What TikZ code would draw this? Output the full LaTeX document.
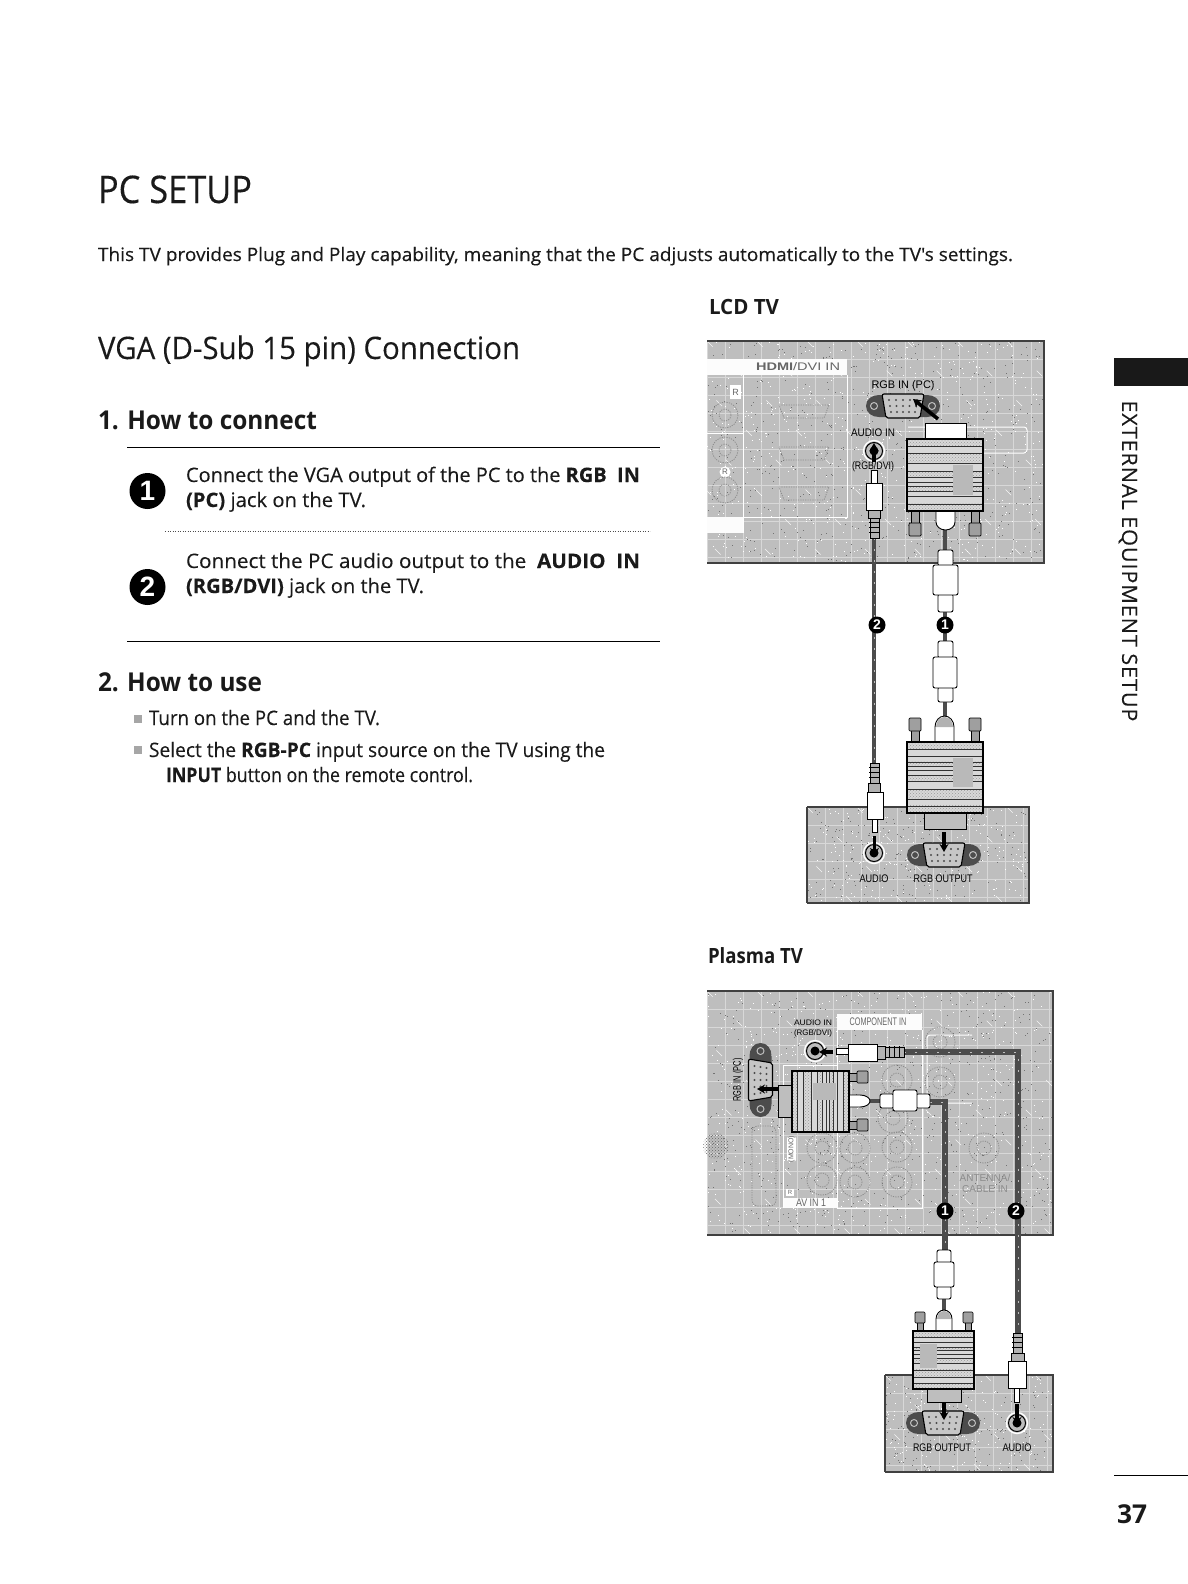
\documentclass[tikz,border=0pt]{standalone}
\usepackage{fontspec}
\usepackage{graphicx}
\setmainfont{Open Sans}
\newfontfamily\medf[FakeBold=0.35]{Open Sans}
\newfontfamily\lightmed[FakeBold=0.15]{Open Sans}
\newfontfamily\spacedf[FakeBold=0.1,LetterSpace=4]{Open Sans}
\newfontfamily\lblfont{Liberation Sans}
\usetikzlibrary{arrows.meta,patterns,calc,shapes.geometric}
\definecolor{ink}{HTML}{1A1A1A}
\definecolor{panelgray}{HTML}{BEBEBE}
\definecolor{cablegray}{HTML}{4C4C4C}
\definecolor{faint}{HTML}{8C8C8C}
\newcommand{\fitx}[2]{\resizebox{#1pt}{\height}{#2}}
\tikzset{
  x=1pt,y=-1pt,
  txt/.style={anchor=base west,inner sep=0pt,outer sep=0pt,text=ink},
  bodytxt/.style={txt,font=\lightmed\fontsize{20}{24}\selectfont},
  lbl/.style={inner sep=0pt,outer sep=0pt,text=black,font=\lblfont\fontsize{11}{12}\selectfont},
  flbl/.style={inner sep=0pt,outer sep=0pt,text=faint,font=\lblfont\fontsize{11}{11}\selectfont},
  cable/.style={line width=4.6pt,color=cablegray},
  cablefine/.style={line width=.6pt,color=white!75!black,dash pattern=on 2pt off 9pt},
  plug/.style={draw=black,fill=white,line width=.9pt},
  relief/.style={draw=black,fill=gray!60,line width=.9pt},
  screw/.style={draw=black,fill=gray!75,line width=.7pt},
  arr/.style={draw=black,line width=3.2pt,-{Stealth[length=8pt,width=9pt]}},
  badge/.style={circle,fill=black,inner sep=0pt,minimum size=17pt,text=white,font=\lblfont\bfseries\fontsize{14}{14}\selectfont},
  bigbadge/.style={circle,fill=black,inner sep=0pt,minimum size=36pt,text=white,font=\lblfont\bfseries\fontsize{28}{28}\selectfont},
  ghost/.style={draw=faint,line width=.8pt,dash pattern=on 1.2pt off 1.2pt},
  band/.style={fill=white!95!panelgray,draw=none},
}
% textured panel
\newcommand{\panel}[5]{%
  \begin{scope}
    \clip (#1,#2) rectangle (#3,#4);
    \fill[panelgray] (#1,#2) rectangle (#3,#4);
    \pgfmathtruncatemacro\pa{#1+18}\pgfmathtruncatemacro\pb{#2+18}%
    \foreach \gx in {#1,\pa,...,#3}{\draw[white!40!panelgray,line width=.6pt] (\gx,#2) -- (\gx,#4);}
    \foreach \gy in {#2,\pb,...,#4}{\draw[white!40!panelgray,line width=.6pt] (#1,\gy) -- (#3,\gy);}
    \foreach \gd in {-300,-250,...,400}{\draw[white!85!panelgray,line width=.6pt,dash pattern=on 8pt off 34pt] ({#1+\gd},#2) -- ({#1+\gd+300},{#2+300});}
    \foreach \i in {1,...,#5}{%
      \pgfmathsetmacro\px{#1+rnd*(#3-#1)}\pgfmathsetmacro\py{#2+rnd*(#4-#2)}%
      \fill[white] (\px,\py) rectangle +(1,1);
      \pgfmathsetmacro\px{#1+rnd*(#3-#1)}\pgfmathsetmacro\py{#2+rnd*(#4-#2)}%
      \fill[black!55] (\px,\py) rectangle +(.8,.8);}
  \end{scope}
  \draw[black!75,line width=1.1pt] (#1,#2) -- (#3,#2) -- (#3,#4) -- (#1,#4);
}
% D-sub socket
\newcommand{\dsub}[3]{%
  \begin{scope}[shift={(#1,#2)},rotate=#3]
    \fill[black!70] (-24,-11) -- (24,-11) .. controls (31,-11) and (37,-7) .. (37,0) .. controls (37,7) and (31,11) .. (24,11) -- (-24,11) .. controls (-31,11) and (-37,7) .. (-37,0) .. controls (-37,-7) and (-31,-11) .. (-24,-11) -- cycle;
    \draw[gray!50,line width=1pt] (-29,0) circle (3.5) (29,0) circle (3.5);
    \draw[black,fill=gray!45,line width=1.1pt,rounded corners=2pt] (-21,-12) -- (21,-12) -- (17,12) -- (-17,12) -- cycle;
    \foreach \ry/\rw in {-6/14,0/13,6/12}{\foreach \rx in {-2,-1,0,1,2}{\fill[black!70] ({\rx*\rw/2},\ry) circle (1.1);}}
  \end{scope}
}
% adapter body: origin ox,oy; vector u; vector v  (v=0 at the block side)
\newcommand{\ad}[2]{{\ox+(#1)*\ux+(#2)*\vx},{\oy+(#1)*\uy+(#2)*\vy}}
\newcommand{\adband}[2]{\path[pattern=crosshatch dots,pattern color=black!40] (\ad{0}{#1}) -- (\ad{1}{#1}) -- (\ad{1}{#2}) -- (\ad{0}{#2}) -- cycle;
  \draw[black!80,line width=.5pt] (\ad{0}{#1}) -- (\ad{1}{#1}) (\ad{0}{#2}) -- (\ad{1}{#2});}
\newcommand{\adapter}[7]{%
  \def\ox{#1}\def\oy{#2}\def\ux{#3}\def\uy{#4}\def\vx{#5}\def\vy{#6}%
  \fill[panelgray!60!white] (\ad{0}{0}) -- (\ad{1}{0}) -- (\ad{1}{1}) -- (\ad{0}{1}) -- cycle;
  \adband{0}{.1}\adband{.2}{.33}\adband{.45}{.53}\adband{.66}{.72}\adband{.9}{1}
  \draw[black!80,line width=.5pt] (\ad{0}{.6}) -- (\ad{1}{.6}) (\ad{0}{.8}) -- (\ad{1}{.8});
  \fill[gray!55] (\ad{#7}{.36}) -- (\ad{#7+.27}{.36}) -- (\ad{#7+.27}{.78}) -- (\ad{#7}{.78}) -- cycle;
  \draw[black,line width=1.2pt] (\ad{0}{0}) -- (\ad{1}{0}) -- (\ad{1}{1}) -- (\ad{0}{1}) -- cycle;
}
\newcommand{\ring}[3]{\draw[white,line width=1.4pt,fill=panelgray] (#1,#2) circle (10.5);\draw[black,line width=1pt] (#1,#2) circle (8.5);\fill[black] (#1,#2) circle (4.5);}
\begin{document}
\begin{tikzpicture}
\useasboundingbox (0,0) rectangle (1188,1584);
\fill[white] (0,0) rectangle (1188,1584);
\pgfmathsetseed{37}

% ---------- left column text
\node[txt,font=\medf\fontsize{38}{44}\selectfont] (title) at (98,203) {\fitx{154}{PC SETUP}};
\node[bodytxt,font=\medf\fontsize{18.5}{22}\selectfont] (intro) at (98,261) {\fitx{915}{This TV provides Plug and Play capability, meaning that the PC adjusts automatically to the TV's settings.}};
\node[txt,font=\lightmed\fontsize{31}{36}\selectfont] (vga) at (98,359) {\fitx{422}{VGA (D-Sub 15 pin) Connection}};
\node[txt,font=\bfseries\fontsize{26}{30}\selectfont] (how1) at (98,429) {\fitx{219}{1. How to connect}};
\draw[black,line width=.9pt] (127,447) coordinate (r1a) -- (660,447) coordinate (r1b);
\node[bigbadge] (n1) at (147.5,491) {1};
\node[bodytxt] (s1a) at (186,482) {\fitx{454}{Connect the VGA output of the PC to the \textbf{RGB\ \ IN}}};
\node[bodytxt] (s1b) at (186,507) {\fitx{180}{\textbf{(PC)} jack on the TV.}};
\draw[black!70,line width=.7pt,dash pattern=on .8pt off 1.7pt] (165,531) coordinate (d1) -- (650,531) coordinate (d2);
\node[bodytxt] (s2a) at (186,568) {\fitx{454}{Connect the PC audio output to the\ \ \textbf{AUDIO\ \ IN}}};
\node[bodytxt] (s2b) at (186,593) {\fitx{238}{\textbf{(RGB/DVI)} jack on the TV.}};
\node[bigbadge] (n2) at (147.5,587) {2};
\draw[black,line width=.9pt] (127,641) coordinate (r2a) -- (660,641) coordinate (r2b);
\node[txt,font=\bfseries\fontsize{26}{30}\selectfont] (how2) at (98,691) {\fitx{164}{2. How to use}};
\fill[gray!70] (134,715) rectangle (142,723);
\node[bodytxt] (u1) at (149,725) {\fitx{231}{Turn on the PC and the TV.}};
\fill[gray!70] (134,746) rectangle (142,754);
\node[bodytxt] (u2) at (149,757) {\fitx{456}{Select the \textbf{RGB-PC} input source on the TV using the}};
\node[bodytxt] (u3) at (166,782) {\fitx{307}{\textbf{INPUT} button on the remote control.}};

% ---------- headings, side tab, page number
\node[txt,font=\bfseries\fontsize{21}{24}\selectfont] (lcd) at (709,314) {\fitx{70}{LCD TV}};
\node[txt,font=\bfseries\fontsize{21}{24}\selectfont] (plasma) at (708,963) {\fitx{95}{Plasma TV}};
\fill[black!90] (1114,358) rectangle (1188,386);
\node[inner sep=0pt,rotate=-90,text=ink,font=\spacedf\fontsize{21}{24}\selectfont] (side) at (1128,561) {\fitx{321}{EXTERNAL EQUIPMENT SETUP}};
\draw[black,line width=.9pt] (1114,1475) coordinate (pr1) -- (1188,1475) coordinate (pr2);
\node[txt,font=\bfseries\fontsize{26}{30}\selectfont] (page) at (1117,1523) {\fitx{30}{37}};

% ---------- LCD panel
\panel{707}{341}{1044}{563}{550}
\fill[band] (707,359) rectangle (847,375);
\fill[band] (707,517) rectangle (743,533);
\draw[white,line width=1pt] (847,375) -- (847,517) -- (743,517) (743,375) -- (743,533) (707,433) -- (743,433);
\draw[white,line width=1pt,rounded corners=3pt] (908,427) -- (1027,427) -- (1027,453) -- (908,453);
\node[lbl,text=black!60] (hdmi) at (798,367) {\fitx{84}{\textbf{HDMI}/DVI IN}};
\fill[white] (730,385) rectangle (741,399);
\node[lbl,text=black!60,font=\lblfont\fontsize{9}{9}\selectfont] (rr1) at (735.5,392) {R};
\fill[white] (725,472) circle (5.5);
\node[lbl,text=black!60,font=\lblfont\fontsize{8}{8}\selectfont] (rr2) at (725,472) {R};
\foreach \cy in {415,450,490}{\draw[ghost] (725,\cy) circle (13);\draw[ghost] (725,\cy) circle (6);}
\foreach \cy in {410,452,492}{\draw[ghost] (779,{\cy-5}) -- (829,{\cy-5}) -- (824,{\cy+8}) -- (784,{\cy+8}) -- cycle;}
\node[lbl] (rgbin) at (903,386) {\fitx{63}{RGB IN (PC)}};
\dsub{903}{406}{0}
\node[lbl] (audin) at (873,433) {\fitx{44}{AUDIO IN}};
\node[lbl] (rgbdvi) at (873,467) {\fitx{42}{(RGB/DVI)}};
\ring{874}{451}{0}
\coordinate (j2top) at (874,451);

% LCD cables
\coordinate (c2a) at (874,538); \coordinate (c2b) at (874,763);
\coordinate (c1a) at (945,528); \coordinate (c1b) at (945,552);
\coordinate (c1c) at (945,610); \coordinate (c1d) at (945,644);
\coordinate (c1e) at (945,700); \coordinate (c1f) at (945,718);
\draw[cable] (c2a) -- (c2b); \draw[cablefine] (c2a) -- (c2b);
\draw[cable] (c1a) -- (c1b); \draw[cable] (c1c) -- (c1d); \draw[cable] (c1e) -- (c1f);

% LCD upper audio plug
\draw[plug] (871.5,470) rectangle (877.5,483);
\draw[plug] (866,483) rectangle (882,510);
\draw[relief] (868,510) rectangle (880,518);
\draw[relief] (870,518) rectangle (879,538);
\foreach \ly in {522,527,532}{\draw[black,line width=.8pt] (869,\ly) -- (880,\ly);}
\draw[arr] (874,462) -- (874,443);
\draw[arr,line width=3.6pt] (938,419) -- (913,399);

% LCD upper adapter
\draw[screw] (911,511) rectangle (919,525);\draw[screw,rounded corners=1pt] (909,523) rectangle (921,536);
\draw[screw] (971,511) rectangle (979,525);\draw[screw,rounded corners=1pt] (969,523) rectangle (981,536);
\draw[plug] (936,511) -- (936,522) arc[start angle=180,end angle=0,x radius=9.5,y radius=8] -- (955,511) -- cycle;
\draw[plug] (925,423) rectangle (966,439);
\adapter{907}{439}{76}{0}{0}{72}{.6}
% LCD upper ferrite
\draw[plug,rounded corners=2pt] (938,550) rectangle (953,566);
\draw[plug,rounded corners=2pt] (938,594) rectangle (953,612);
\draw[plug,rounded corners=2pt] (933,565) rectangle (958,595);

\node[badge] (b1a) at (945,625) {1};
\node[badge] (b2a) at (877,625) {2};

% LCD lower ferrite + adapter
\draw[plug,rounded corners=2pt] (938,641) rectangle (953,658);
\draw[plug,rounded corners=2pt] (938,687) rectangle (953,702);
\draw[plug,rounded corners=2pt] (933,657) rectangle (957,688);

% PC box (LCD)
\panel{807}{807}{1029}{903}{220}
\draw[black!75,line width=1.1pt] (807,807) -- (807,903);
\node[lbl] (audio1) at (874,879) {\fitx{29}{AUDIO}};
\node[lbl] (rgbout1) at (943,879) {\fitx{59}{RGB OUTPUT}};
\ring{874}{853}{0}
\dsub{944}{855}{0}
\draw[screw] (911,729) rectangle (919,741);\draw[screw,rounded corners=1pt] (909,718) rectangle (921,731);
\draw[screw] (971,729) rectangle (979,741);\draw[screw,rounded corners=1pt] (969,718) rectangle (981,731);
\draw[plug] (935,742) -- (935,727) arc[start angle=180,end angle=360,x radius=9.5,y radius=11] -- (954,742) -- cycle;
\fill[gray!60] (936,727) arc[start angle=180,end angle=360,x radius=8.5,y radius=10] -- cycle;
\draw[plug,fill=panelgray] (924,813) rectangle (966,829);
\adapter{907}{813}{76}{0}{0}{-71}{.6}
\draw[arr] (944,832) -- (944,852);
% lower audio plug
\draw[relief] (870,763) rectangle (879,783);
\foreach \ly in {767,772,777}{\draw[black,line width=.8pt] (869,\ly) -- (880,\ly);}
\draw[relief] (868,783) rectangle (880,792);
\draw[plug] (867,792) rectangle (883,819);
\draw[plug] (872,819) rectangle (877,832);
\draw[arr] (874.5,836) -- (874.5,856);

% ---------- Plasma panel
\panel{707}{991}{1053}{1235}{650}
\fill[band] (837,1014) rectangle (922,1030);
\fill[band] (783,1198) rectangle (837,1208);
\draw[white,line width=1pt] (837,1030) -- (837,1208) -- (922,1208) -- (922,1030) (783,1065) -- (783,1208) (783,1065) -- (837,1065);
\draw[white,line width=1pt,rounded corners=3pt] (927,1103) -- (972,1103) (972,1035) -- (927,1035) -- (927,1103);
\node[lbl,text=black!60] (compin) at (878,1022) {\fitx{57}{COMPONENT IN}};
\node[lbl,text=black!60] (avin) at (811,1203) {\fitx{30}{AV IN 1}};
\foreach \cx/\cy in {822/1148,822/1180,855/1148,855/1182,897/1147,897/1182,897/1080,893/1118,940/1042,940/1082,984/1148}{\draw[ghost] (\cx,\cy) circle (15);\draw[ghost] (\cx,\cy) circle (7);}
\draw[ghost,rounded corners=6pt] (752,1126) rectangle (776,1206);
\path[pattern=crosshatch dots,pattern color=black!60] (716,1146) circle (13);
\fill[white,rounded corners=1pt] (787,1137) rectangle (796,1161);
\node[lbl,rotate=90,text=black!60,font=\lblfont\fontsize{7}{7}\selectfont] (mono) at (791.5,1149) {(MONO)};
\fill[white] (786,1189) rectangle (794,1196);
\node[lbl,text=black!60,font=\lblfont\fontsize{6}{6}\selectfont] (rr3) at (790,1192.5) {R};
\node[flbl,align=center,font=\lblfont\fontsize{10}{11}\selectfont] (cablein) at (985,1183) {ANTENNA/\\CABLE IN};
\node[lbl,font=\lblfont\fontsize{8}{8}\selectfont] (audin2) at (813,1023) {\fitx{38}{AUDIO IN}};
\node[lbl,font=\lblfont\fontsize{8}{8}\selectfont] (rgbdvi2) at (813,1033) {\fitx{38}{(RGB/DVI)}};
\node[lbl,rotate=90] (rgbin2) at (738,1080) {\fitx{43}{RGB IN (PC)}};
\dsub{760.5}{1080}{90}
\ring{815}{1051}{0}
% plasma cables
\coordinate (p2a) at (904,1052); \coordinate (p2b) at (1018,1052); \coordinate (p2c) at (1018,1333);
\coordinate (p1a) at (930,1102); \coordinate (p1b) at (945,1102); \coordinate (p1c) at (945,1252);
\coordinate (p1d) at (868,1101); \coordinate (p1e) at (882,1101);
\coordinate (p1f) at (944,1297); \coordinate (p1g) at (944,1311);
\draw[cable,line width=5.6pt] (p2a) -- (p2b) -- (p2c); \draw[cablefine] (p2a) -- (p2b) -- (p2c);
\draw[cable,line width=5.6pt] (p1a) -- (p1b) -- (p1c); \draw[cablefine] (p1a) -- (p1b) -- (p1c);
\draw[cable,line width=3.5pt] (p1d) -- (p1e);
\draw[cable,line width=4.6pt] (p1f) -- (p1g);
% plasma audio plug
\draw[plug] (836,1048.5) rectangle (848,1054.5);
\draw[plug] (848,1044) rectangle (877,1061);
\draw[relief] (877,1046) rectangle (885,1059);
\draw[relief] (885,1047) rectangle (904,1057);
\foreach \lx in {889,894,899}{\draw[black,line width=.8pt] (\lx,1046) -- (\lx,1058);}
\draw[arr] (833,1052) -- (819,1052);
% plasma adapter
\draw[screw] (849,1073) rectangle (858,1081);\draw[screw,rounded corners=1pt] (857,1071) rectangle (868,1083);
\draw[screw] (849,1121) rectangle (858,1129);\draw[screw,rounded corners=1pt] (857,1119) rectangle (868,1131);
\draw[plug] (849,1095) -- (860,1095) arc[start angle=-90,end angle=90,x radius=10,y radius=6] -- (849,1107) -- cycle;
\draw[plug,fill=panelgray] (778,1085) rectangle (792,1117);
\adapter{792}{1071}{0}{61}{57}{0}{.2}
\draw[arr] (778,1089) -- (757,1089);
% plasma upper ferrite
\draw[plug,rounded corners=2pt] (880,1094) rectangle (894,1108);
\draw[plug,rounded corners=2pt] (916,1094) rectangle (930,1108);
\draw[plug,rounded corners=2pt] (893,1090) rectangle (917,1111);

\node[badge] (b1b) at (945,1211) {1};
\node[badge] (b2b) at (1016,1211) {2};

% PC box (plasma)
\panel{885}{1375}{1053}{1472}{180}
\draw[black!75,line width=1.1pt] (885,1375) -- (885,1472);
\node[lbl] (rgbout2) at (942,1448) {\fitx{58}{RGB OUTPUT}};
\node[lbl] (audio2) at (1017,1448) {\fitx{29}{AUDIO}};
\dsub{943}{1423}{0}
\ring{1017}{1423}{0}
% plasma lower ferrite
\draw[plug,rounded corners=2pt] (937,1250) rectangle (951,1263);
\draw[plug,rounded corners=2pt] (937,1286) rectangle (951,1299);
\draw[plug,rounded corners=2pt] (934,1262) rectangle (954,1287);
% plasma lower adapter
\draw[screw] (917,1322) rectangle (923,1331);\draw[screw,rounded corners=1pt] (915,1312) rectangle (925,1323);
\draw[screw] (965,1322) rectangle (971,1331);\draw[screw,rounded corners=1pt] (963,1312) rectangle (973,1323);
\draw[plug] (936,1331) -- (936,1319) arc[start angle=180,end angle=360,x radius=8,y radius=9] -- (952,1331) -- cycle;
\fill[gray!60] (937,1319) arc[start angle=180,end angle=360,x radius=7,y radius=8] -- cycle;
\draw[plug,fill=panelgray] (927,1389) rectangle (961,1402);
\adapter{913}{1389}{61}{0}{0}{-58}{.12}
\draw[arr] (944,1403) -- (944,1420);
% plasma lower audio plug
\draw[relief] (1013,1333) rectangle (1022,1353);
\foreach \ly in {1337,1342,1347}{\draw[black,line width=.8pt] (1012,\ly) -- (1023,\ly);}
\draw[relief] (1011,1353) rectangle (1024,1361);
\draw[plug] (1008,1361) rectangle (1026,1388);
\draw[plug] (1014,1388) rectangle (1019,1402);
\draw[arr] (1017,1404) -- (1017,1425);
\end{tikzpicture}
\end{document}
